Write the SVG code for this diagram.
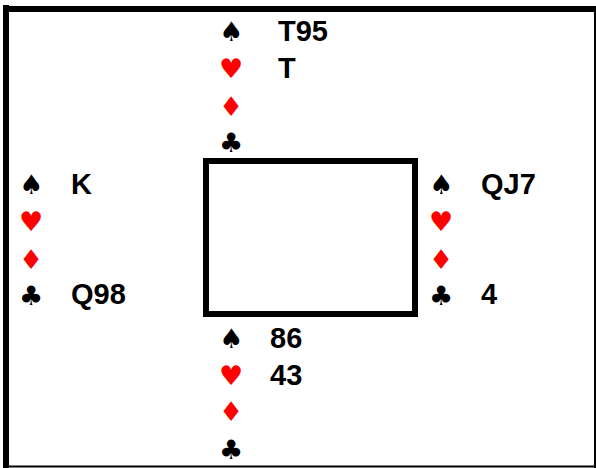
<svg xmlns="http://www.w3.org/2000/svg" width="596" height="468" viewBox="0 0 596 468">
<style>
.s{font-family:"DejaVu Sans",sans-serif;font-size:27px}
.b{fill:#000}.r{fill:#f00}
.t{font-family:"Liberation Sans",Arial,sans-serif;font-size:29px;font-weight:bold;fill:#000}
.box{fill:none;stroke:#000;stroke-linecap:square}
</style>
<rect width="596" height="468" fill="#fff"/>
<g id="frame"><path class="box" stroke-width="6" d="M6 8V468M6 9H596"/><path d="M6 466.500H596M595 9V468" class="box" stroke-width="2"/></g>
<g id="table"><path class="box" stroke-width="6" d="M206 161H415V314H206Z"/></g>
<g id="north">
<text class="s b" x="219" y="41">♠</text><text class="s r" x="219" y="78">♥</text><text class="s r" x="219" y="116">♦</text><text class="s b" x="219" y="152">♣</text>
<text class="t" x="278" y="41">T95</text><text class="t" x="278" y="78">T</text></g>
<g id="west">
<text class="s b" x="19" y="194">♠</text><text class="s r" x="19" y="231">♥</text><text class="s r" x="19" y="269">♦</text><text class="s b" x="19" y="305">♣</text>
<text class="t" x="71" y="194">K</text><text class="t" x="71" y="304">Q98</text></g>
<g id="east">
<text class="s b" x="429" y="194">♠</text><text class="s r" x="429" y="231">♥</text><text class="s r" x="429" y="269">♦</text><text class="s b" x="429" y="305">♣</text>
<text class="t" x="481" y="194">QJ7</text><text class="t" x="481" y="304">4</text></g>
<g id="south">
<text class="s b" x="219" y="348">♠</text><text class="s r" x="219" y="385">♥</text><text class="s r" x="219" y="421">♦</text><text class="s b" x="219" y="459">♣</text>
<text class="t" x="270" y="348">86</text><text class="t" x="270" y="385">43</text></g>
</svg>
